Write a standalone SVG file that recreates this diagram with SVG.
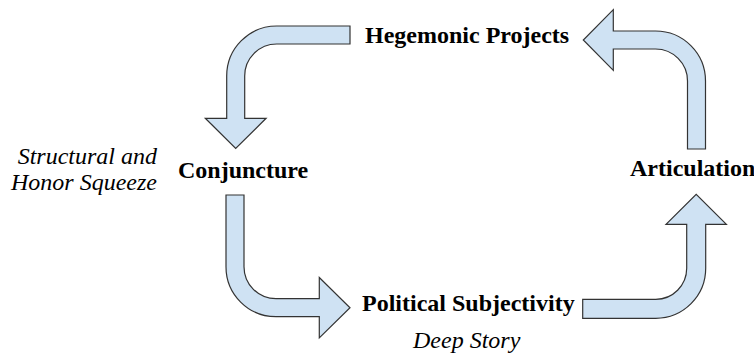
<svg xmlns="http://www.w3.org/2000/svg" width="754" height="357" viewBox="0 0 754 357">
<style>
.arrow{fill:#cfe2f3;stroke:#333333;stroke-width:1.2;stroke-linejoin:miter}
.node{font-family:"Liberation Serif","Times New Roman",serif;font-weight:bold;font-size:24px;fill:#000}
.note{font-family:"Liberation Serif","Times New Roman",serif;font-style:italic;font-size:24px;fill:#000}
</style>
<rect width="754" height="357" fill="#ffffff"/>
<g id="connectors">
<path class="arrow" d="M350,26 L276.7,26 A50,50 0 0 0 226.7,76 L226.7,118.3 L205.3,118.3 L235.7,148.5 L266.1,118.3 L244.7,118.3 L244.7,76 A32,32 0 0 1 276.7,44 L350,44 Z"/>
<path class="arrow" d="M226,195 L244,195 L244,266.7 A32,32 0 0 0 276,298.7 L319.3,298.7 L319.3,277.5 L350,307.7 L319.3,337.9 L319.3,316.7 L276,316.7 A50,50 0 0 1 226,266.7 Z"/>
<path class="arrow" d="M582.7,299.3 L655.7,299.3 A31,31 0 0 0 686.7,268.3 L686.7,224.3 L666,224.3 L696.2,194.3 L726.4,224.3 L705.7,224.3 L705.7,268.3 A50,50 0 0 1 655.7,318.3 L582.7,318.3 Z"/>
<path class="arrow" d="M687.5,149 L687.5,81 A32,32 0 0 0 655.5,49 L613.3,49 L613.3,70.3 L583.3,40 L613.3,9.7 L613.3,31 L655.5,31 A50,50 0 0 1 705.5,81 L705.5,149 Z"/>
</g>
<g id="hegemonic-projects"><text class="node" x="365" y="43">Hegemonic Projects</text></g>
<g id="conjuncture"><text class="node" x="178" y="178">Conjuncture</text></g>
<g id="articulation"><text class="node" x="630" y="176">Articulation</text></g>
<g id="political-subjectivity"><text class="node" x="362" y="311">Political Subjectivity</text></g>
<g id="structural-note"><text class="note" text-anchor="end" x="157" y="164">Structural and</text><text class="note" text-anchor="end" x="157" y="190">Honor Squeeze</text></g>
<g id="deep-story"><text class="note" x="413" y="348">Deep Story</text></g>
</svg>
